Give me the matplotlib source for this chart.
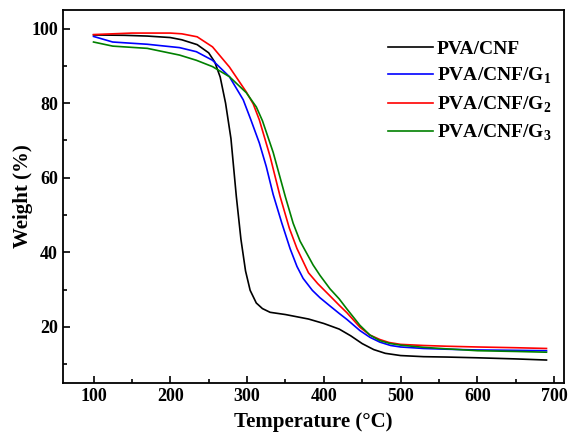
import matplotlib
matplotlib.use("Agg")
import matplotlib.pyplot as plt
from matplotlib.ticker import MultipleLocator

# TGA curves
temp_cnf = [100, 140, 170, 200, 215, 235, 250, 258, 265, 272, 279, 286, 292, 298, 304, 312,
            320, 330, 350, 380, 400, 420, 435, 450, 465, 480, 500, 530, 560, 600, 650, 690]
weight_cnf = [98.3, 98.2, 98.0, 97.6, 97.0, 95.7, 93.5, 91.0, 87.0, 80.0, 70.5, 55.0, 43.5, 35.0, 29.8, 26.4,
              24.9, 23.9, 23.3, 22.1, 20.9, 19.4, 17.6, 15.5, 13.9, 12.9, 12.3, 12.0, 11.9, 11.7, 11.4, 11.1]

temp_g1 = [100, 125, 170, 212, 234, 255, 277, 295, 305, 316, 325, 334, 345, 356, 365, 373,
           385, 395, 408, 420, 430, 447, 460, 473, 487, 500, 530, 560, 600, 650, 690]
weight_g1 = [97.9, 96.4, 95.8, 94.9, 93.8, 91.5, 87.1, 80.9, 75.5, 69.3, 63.0, 55.5, 48.0, 41.0, 36.2, 33.0,
             29.8, 27.8, 25.6, 23.6, 22.0, 19.0, 17.2, 15.9, 15.0, 14.6, 14.2, 14.0, 13.8, 13.7, 13.6]

temp_g2 = [100, 150, 200, 215, 235, 255, 277, 299, 308, 316, 330, 343, 355, 365, 380, 392, 408,
           420, 430, 447, 460, 473, 485, 500, 530, 560, 600, 650, 690]
weight_g2 = [98.4, 98.8, 98.8, 98.6, 97.8, 95.1, 89.7, 83.0, 79.8, 75.5, 65.7, 55.0, 46.5, 41.0, 34.5, 31.6, 28.3,
             25.8, 23.8, 19.9, 17.8, 16.6, 15.8, 15.3, 15.0, 14.8, 14.6, 14.4, 14.2]

temp_g3 = [100, 125, 170, 212, 234, 255, 277, 299, 312, 320, 334, 350, 360, 369, 386, 395,
           408, 420, 430, 447, 460, 473, 487, 500, 530, 560, 600, 650, 690]
weight_g3 = [96.4, 95.3, 94.7, 92.9, 91.5, 89.8, 87.1, 82.8, 79.0, 75.3, 66.8, 54.8, 47.8, 43.0, 36.6, 33.8,
             30.2, 27.5, 24.8, 20.4, 17.8, 16.3, 15.5, 15.1, 14.5, 14.1, 13.6, 13.4, 13.2]

labels = ["PVA/CNF", r"PVA/CNF/G$_\mathbf{1}$", r"PVA/CNF/G$_\mathbf{2}$", r"PVA/CNF/G$_\mathbf{3}$"]
colors = ["black", "#0000ff", "#ff0000", "#008000"]

plt.rcParams["font.family"] = "Liberation Serif"
plt.rcParams["font.weight"] = "bold"
plt.rcParams["mathtext.fontset"] = "custom"
plt.rcParams["mathtext.rm"] = "Liberation Serif:bold"
plt.rcParams["mathtext.bf"] = "Liberation Serif:bold"

fig = plt.figure(figsize=(5.71, 4.33), dpi=100)
ax = fig.add_axes([0.110, 0.116, 0.878, 0.861])

series = [(temp_cnf, weight_cnf), (temp_g1, weight_g1), (temp_g2, weight_g2), (temp_g3, weight_g3)]
for (t, w), lab, c in zip(series, labels, colors):
    ax.plot(t, w, color=c, lw=1.2, label=lab)

ax.set_xlim(60, 713)
ax.set_ylim(5, 105)
ax.xaxis.set_major_locator(MultipleLocator(100))
ax.xaxis.set_minor_locator(MultipleLocator(50))
ax.yaxis.set_major_locator(MultipleLocator(20))
ax.yaxis.set_minor_locator(MultipleLocator(10))
ax.tick_params(which="both", direction="in", top=False, right=False, width=1.2, labelsize=13)
ax.tick_params(which="major", length=5)
ax.tick_params(which="minor", length=3)
for s in ax.spines.values():
    s.set_linewidth(1.3)

ax.set_xlabel("Temperature (°C)", fontsize=15, fontweight="bold", labelpad=5)
ax.set_ylabel("Weight (%)", fontsize=15, fontweight="bold", labelpad=-1.5)

ax.legend(loc="upper left", bbox_to_anchor=(0.63, 0.945), frameon=False, fontsize=14,
          handlelength=2.3, handletextpad=0.2, labelspacing=0.42, borderpad=0)

fig.savefig("out.png", dpi=100)
